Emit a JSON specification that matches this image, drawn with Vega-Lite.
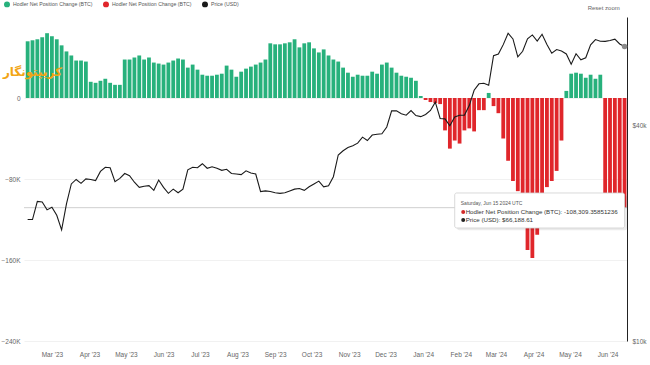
{
  "$schema": "https://vega.github.io/schema/vega-lite/v6.json",
  "width": 603,
  "height": 324,
  "autosize": {"type": "none"},
  "padding": {"left": 24, "top": 17, "right": 23, "bottom": 24},
  "background": "white",
  "config": {
    "view": {"stroke": null},
    "font": "Liberation Sans",
    "axis": {"labelFont": "Liberation Sans", "labelFontSize": 6.5, "labelColor": "#666666", "title": null, "ticks": false}
  },
  "datasets": {
    "main": [
      {"date": "2023-02-09", "hodler": 56000, "price": 21800},
      {"date": "2023-02-13", "hodler": 57000, "price": 21800},
      {"date": "2023-02-17", "hodler": 58000, "price": 24500},
      {"date": "2023-02-21", "hodler": 60000, "price": 24400},
      {"date": "2023-02-25", "hodler": 64000, "price": 23200},
      {"date": "2023-03-01", "hodler": 61000, "price": 23600},
      {"date": "2023-03-05", "hodler": 58000, "price": 22400},
      {"date": "2023-03-09", "hodler": 52000, "price": 20400},
      {"date": "2023-03-13", "hodler": 46000, "price": 24100},
      {"date": "2023-03-17", "hodler": 42000, "price": 27400},
      {"date": "2023-03-21", "hodler": 37000, "price": 28200},
      {"date": "2023-03-25", "hodler": 37000, "price": 27500},
      {"date": "2023-03-29", "hodler": 36000, "price": 28300},
      {"date": "2023-04-02", "hodler": 16000, "price": 28200},
      {"date": "2023-04-06", "hodler": 15000, "price": 28000},
      {"date": "2023-04-10", "hodler": 17000, "price": 29700},
      {"date": "2023-04-14", "hodler": 19000, "price": 30500},
      {"date": "2023-04-18", "hodler": 15000, "price": 30400},
      {"date": "2023-04-22", "hodler": 13000, "price": 27800},
      {"date": "2023-04-26", "hodler": 13000, "price": 28400},
      {"date": "2023-04-30", "hodler": 38000, "price": 29300},
      {"date": "2023-05-04", "hodler": 38000, "price": 28900},
      {"date": "2023-05-08", "hodler": 40000, "price": 27700},
      {"date": "2023-05-12", "hodler": 42000, "price": 26800},
      {"date": "2023-05-16", "hodler": 38000, "price": 27000},
      {"date": "2023-05-20", "hodler": 40000, "price": 27100},
      {"date": "2023-05-24", "hodler": 35000, "price": 26300},
      {"date": "2023-05-28", "hodler": 34000, "price": 28100},
      {"date": "2023-06-01", "hodler": 33000, "price": 26800},
      {"date": "2023-06-05", "hodler": 35000, "price": 25800},
      {"date": "2023-06-09", "hodler": 37000, "price": 26500},
      {"date": "2023-06-13", "hodler": 39000, "price": 25900},
      {"date": "2023-06-17", "hodler": 38000, "price": 26500},
      {"date": "2023-06-21", "hodler": 30000, "price": 30000},
      {"date": "2023-06-25", "hodler": 33000, "price": 30500},
      {"date": "2023-06-29", "hodler": 28000, "price": 30400},
      {"date": "2023-07-03", "hodler": 23000, "price": 31200},
      {"date": "2023-07-07", "hodler": 22000, "price": 30300},
      {"date": "2023-07-11", "hodler": 22000, "price": 30600},
      {"date": "2023-07-15", "hodler": 23000, "price": 30300},
      {"date": "2023-07-19", "hodler": 24000, "price": 29900},
      {"date": "2023-07-23", "hodler": 32000, "price": 30100},
      {"date": "2023-07-27", "hodler": 28000, "price": 29300},
      {"date": "2023-07-31", "hodler": 21000, "price": 29200},
      {"date": "2023-08-04", "hodler": 26000, "price": 29100},
      {"date": "2023-08-08", "hodler": 29000, "price": 29800},
      {"date": "2023-08-12", "hodler": 31000, "price": 29400},
      {"date": "2023-08-16", "hodler": 33000, "price": 29200},
      {"date": "2023-08-20", "hodler": 35000, "price": 26100},
      {"date": "2023-08-24", "hodler": 38000, "price": 26200},
      {"date": "2023-08-28", "hodler": 54000, "price": 26100},
      {"date": "2023-09-01", "hodler": 53000, "price": 25900},
      {"date": "2023-09-05", "hodler": 53000, "price": 25800},
      {"date": "2023-09-09", "hodler": 54000, "price": 25900},
      {"date": "2023-09-13", "hodler": 55000, "price": 26200},
      {"date": "2023-09-17", "hodler": 58000, "price": 26500},
      {"date": "2023-09-21", "hodler": 50000, "price": 26600},
      {"date": "2023-09-25", "hodler": 54000, "price": 26300},
      {"date": "2023-09-29", "hodler": 55000, "price": 26900},
      {"date": "2023-10-03", "hodler": 49000, "price": 27400},
      {"date": "2023-10-07", "hodler": 45000, "price": 27900},
      {"date": "2023-10-11", "hodler": 48000, "price": 26900},
      {"date": "2023-10-15", "hodler": 42000, "price": 27100},
      {"date": "2023-10-19", "hodler": 38000, "price": 28700},
      {"date": "2023-10-23", "hodler": 36000, "price": 33000},
      {"date": "2023-10-27", "hodler": 30000, "price": 33900},
      {"date": "2023-10-31", "hodler": 25000, "price": 34600},
      {"date": "2023-11-04", "hodler": 21000, "price": 35000},
      {"date": "2023-11-08", "hodler": 23000, "price": 35600},
      {"date": "2023-11-12", "hodler": 22000, "price": 37000},
      {"date": "2023-11-16", "hodler": 22000, "price": 36200},
      {"date": "2023-11-20", "hodler": 26000, "price": 37500},
      {"date": "2023-11-24", "hodler": 24000, "price": 37700},
      {"date": "2023-11-28", "hodler": 33000, "price": 37800},
      {"date": "2023-12-02", "hodler": 35000, "price": 39500},
      {"date": "2023-12-06", "hodler": 30000, "price": 43800},
      {"date": "2023-12-10", "hodler": 25000, "price": 43800},
      {"date": "2023-12-14", "hodler": 22000, "price": 43000},
      {"date": "2023-12-18", "hodler": 21000, "price": 42600},
      {"date": "2023-12-22", "hodler": 20000, "price": 43900},
      {"date": "2023-12-26", "hodler": 17000, "price": 42500},
      {"date": "2023-12-30", "hodler": 2000, "price": 42200},
      {"date": "2024-01-03", "hodler": -2000, "price": 42800},
      {"date": "2024-01-07", "hodler": -4000, "price": 43900},
      {"date": "2024-01-11", "hodler": -5000, "price": 46300},
      {"date": "2024-01-15", "hodler": -6000, "price": 41700},
      {"date": "2024-01-19", "hodler": -32000, "price": 41600},
      {"date": "2024-01-23", "hodler": -50000, "price": 39800},
      {"date": "2024-01-27", "hodler": -42000, "price": 42100},
      {"date": "2024-01-31", "hodler": -45000, "price": 42600},
      {"date": "2024-02-04", "hodler": -32000, "price": 42600},
      {"date": "2024-02-08", "hodler": -30000, "price": 45300},
      {"date": "2024-02-12", "hodler": -33000, "price": 50000},
      {"date": "2024-02-16", "hodler": -12000, "price": 52100},
      {"date": "2024-02-20", "hodler": -12000, "price": 52300},
      {"date": "2024-02-24", "hodler": 5000, "price": 51600},
      {"date": "2024-02-28", "hodler": -8000, "price": 62400},
      {"date": "2024-03-03", "hodler": -15000, "price": 63100},
      {"date": "2024-03-07", "hodler": -40000, "price": 67000},
      {"date": "2024-03-11", "hodler": -62000, "price": 72100},
      {"date": "2024-03-15", "hodler": -82000, "price": 69500},
      {"date": "2024-03-19", "hodler": -92000, "price": 61900},
      {"date": "2024-03-23", "hodler": -128000, "price": 64200},
      {"date": "2024-03-27", "hodler": -150000, "price": 69500},
      {"date": "2024-03-31", "hodler": -158000, "price": 71300},
      {"date": "2024-04-04", "hodler": -135000, "price": 68500},
      {"date": "2024-04-08", "hodler": -97000, "price": 71600},
      {"date": "2024-04-12", "hodler": -88000, "price": 67100},
      {"date": "2024-04-16", "hodler": -82000, "price": 63400},
      {"date": "2024-04-20", "hodler": -72000, "price": 64900},
      {"date": "2024-04-24", "hodler": -42000, "price": 64300},
      {"date": "2024-04-28", "hodler": 7000, "price": 63100},
      {"date": "2024-05-02", "hodler": 24000, "price": 59100},
      {"date": "2024-05-06", "hodler": 25000, "price": 63200},
      {"date": "2024-05-10", "hodler": 24000, "price": 60800},
      {"date": "2024-05-14", "hodler": 20000, "price": 61600},
      {"date": "2024-05-18", "hodler": 23000, "price": 66900},
      {"date": "2024-05-22", "hodler": 19000, "price": 69200},
      {"date": "2024-05-26", "hodler": 23000, "price": 68500},
      {"date": "2024-05-30", "hodler": -108000, "price": 68400},
      {"date": "2024-06-03", "hodler": -108000, "price": 68800},
      {"date": "2024-06-07", "hodler": -109000, "price": 69400},
      {"date": "2024-06-11", "hodler": -110000, "price": 67300},
      {"date": "2024-06-15", "hodler": -108309.35851236, "price": 66188.61}
    ],
    "one": [{"k": 1}]
  },
  "layer": [
    {
      "layer": [
        {
          "data": {"name": "main"},
          "transform": [{"filter": "datum.hodler >= 0"}],
          "mark": {"type": "bar", "width": 3.8},
          "encoding": {
            "x": {
              "field": "date",
              "type": "temporal",
              "scale": {"type": "utc", "padding": 0, "nice": false, "domain": [{"year": 2023, "month": 2, "date": 6, "utc": true}, {"year": 2024, "month": 6, "date": 17, "utc": true}]},
              "axis": {"format": "%b '%y", "tickCount": {"interval": "month", "step": 1}, "domain": false, "grid": false, "labelPadding": 10, "labelAngle": 0, "labelFlush": false}
            },
            "y": {
              "field": "hodler",
              "type": "quantitative",
              "scale": {"domain": [-240000, 80000], "nice": false, "zero": false},
              "axis": {"values": [-240000, -160000, -80000, 0], "labelExpr": "datum.value == 0 ? '0' : format(datum.value / 1000, 'd') + 'K'", "domain": false, "grid": true, "gridColor": "#eeeeee", "gridWidth": 0.8, "labelPadding": 4}
            },
            "color": {
              "datum": "Hodler Net Position Change (BTC)",
              "type": "nominal",
              "scale": {"domain": ["Hodler Net Position Change (BTC)", "Hodler Net Position Change (BTC) ", "Price (USD)"], "range": ["#27b17c", "#e0262b", "#1a1a1a"]},
              "legend": {"orient": "none", "legendX": -20, "legendY": -16, "direction": "horizontal", "title": null, "symbolType": "circle", "symbolSize": 20, "labelFontSize": 5.2, "labelColor": "#555555", "columnPadding": 7, "labelOffset": 3, "encode": {"symbols": {"update": {"fill": {"scale": "color", "field": "value"}, "stroke": {"value": "transparent"}}}}}
            }
          }
        },
        {
          "data": {"name": "main"},
          "transform": [{"filter": "datum.hodler < 0"}],
          "mark": {"type": "bar", "width": 3.8},
          "encoding": {
            "x": {"field": "date", "type": "temporal"},
            "y": {"field": "hodler", "type": "quantitative"},
            "color": {"datum": "Hodler Net Position Change (BTC) ", "type": "nominal"}
          }
        },
        {
          "data": {"name": "one"},
          "mark": {"type": "rule", "color": "#c4c4c4", "strokeWidth": 0.8},
          "encoding": {"y": {"datum": -108309.36, "type": "quantitative"}}
        },
        {
          "data": {"name": "one"},
          "mark": {"type": "text", "text": "کریپتونگار", "font": "DejaVu Sans", "fontWeight": "bold", "fontSize": 12, "color": "#f2a516", "align": "center", "baseline": "middle"},
          "encoding": {"x": {"datum": {"year": 2023, "month": 2, "date": 13, "utc": true}, "type": "temporal"}, "y": {"datum": 26000, "type": "quantitative"}}
        },
        {
          "data": {"name": "one"},
          "mark": {"type": "text", "text": "Reset zoom", "fontSize": 6, "color": "#666666", "align": "right", "baseline": "middle"},
          "encoding": {"x": {"datum": {"year": 2024, "month": 6, "date": 11, "utc": true}, "type": "temporal"}, "y": {"datum": 89000, "type": "quantitative"}}
        },
        {
          "data": {"name": "one"},
          "mark": {"type": "rect", "fill": "#000000", "opacity": 0.08, "cornerRadius": 2},
          "encoding": {
            "x": {"datum": {"year": 2024, "month": 1, "date": 29, "utc": true}, "type": "temporal"},
            "x2": {"datum": {"year": 2024, "month": 6, "date": 17, "utc": true}},
            "y": {"datum": -96000, "type": "quantitative"},
            "y2": {"datum": -130500}
          }
        },
        {
          "data": {"name": "one"},
          "mark": {"type": "rect", "fill": "white", "stroke": "#cfcfcf", "strokeWidth": 0.8, "cornerRadius": 2},
          "encoding": {
            "x": {"datum": {"year": 2024, "month": 1, "date": 27, "utc": true}, "type": "temporal"},
            "x2": {"datum": {"year": 2024, "month": 6, "date": 15, "utc": true}},
            "y": {"datum": -93800, "type": "quantitative"},
            "y2": {"datum": -128400}
          }
        },
        {
          "data": {"name": "one"},
          "mark": {"type": "text", "text": "Saturday, Jun 15 2024 UTC", "fontSize": 5, "color": "#555555", "align": "left", "baseline": "middle"},
          "encoding": {"x": {"datum": {"year": 2024, "month": 2, "date": 1, "utc": true}, "type": "temporal"}, "y": {"datum": -103700, "type": "quantitative"}}
        },
        {
          "data": {"name": "one"},
          "mark": {"type": "point", "shape": "circle", "filled": true, "size": 16, "color": "#d32a2a", "opacity": 1},
          "encoding": {"x": {"datum": {"year": 2024, "month": 2, "date": 3, "utc": true}, "type": "temporal"}, "y": {"datum": -112600, "type": "quantitative"}}
        },
        {
          "data": {"name": "one"},
          "mark": {"type": "text", "text": "Hodler Net Position Change (BTC): -108,309.35851236", "fontSize": 6.2, "color": "#333333", "align": "left", "baseline": "middle"},
          "encoding": {"x": {"datum": {"year": 2024, "month": 2, "date": 5, "utc": true}, "type": "temporal"}, "y": {"datum": -112600, "type": "quantitative"}}
        },
        {
          "data": {"name": "one"},
          "mark": {"type": "point", "shape": "circle", "filled": true, "size": 16, "color": "#222222", "opacity": 1},
          "encoding": {"x": {"datum": {"year": 2024, "month": 2, "date": 3, "utc": true}, "type": "temporal"}, "y": {"datum": -120500, "type": "quantitative"}}
        },
        {
          "data": {"name": "one"},
          "mark": {"type": "text", "text": "Price (USD): $66,188.61", "fontSize": 6.2, "color": "#333333", "align": "left", "baseline": "middle"},
          "encoding": {"x": {"datum": {"year": 2024, "month": 2, "date": 5, "utc": true}, "type": "temporal"}, "y": {"datum": -120500, "type": "quantitative"}}
        }
      ]
    },
    {
      "layer": [
        {
          "data": {"name": "main"},
          "mark": {"type": "line", "strokeWidth": 1.1},
          "encoding": {
            "x": {"field": "date", "type": "temporal"},
            "y": {
              "field": "price",
              "type": "quantitative",
              "scale": {"type": "log", "domain": [10000, 80000], "nice": false},
              "axis": {"orient": "right", "values": [10000, 40000], "labelExpr": "'$' + format(datum.value / 1000, 'd') + 'k'", "grid": false, "domain": true, "domainColor": "#222222", "domainWidth": 1, "labelPadding": 5}
            },
            "color": {"datum": "Price (USD)", "type": "nominal"}
          }
        },
        {
          "data": {"name": "one"},
          "mark": {"type": "point", "shape": "circle", "filled": true, "size": 30, "color": "#8a8a8a", "opacity": 1},
          "encoding": {"x": {"datum": {"year": 2024, "month": 6, "date": 15, "utc": true}, "type": "temporal"}, "y": {"datum": 66188.61, "type": "quantitative"}}
        }
      ]
    }
  ],
  "resolve": {"scale": {"y": "independent"}}
}
